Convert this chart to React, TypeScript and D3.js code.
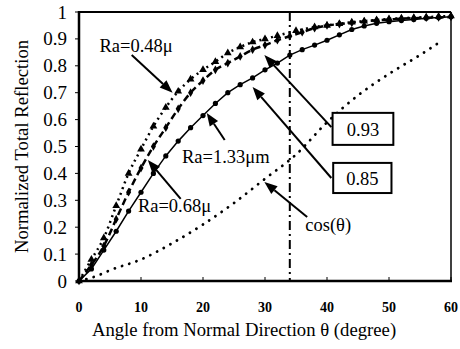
import React from 'react';
import * as d3 from 'd3';

// angle (degree) vs normalized total reflection
const triAngles = [0, 2, 4, 6, 8, 10, 12, 14, 16, 18, 20, 22, 24, 26, 28, 30, 32, 35, 38, 40, 42, 44, 46, 48, 50, 52, 54, 56, 58, 60];
const triValues = [0, 0.08, 0.16, 0.28, 0.4, 0.49, 0.575, 0.645, 0.705, 0.75, 0.785, 0.815, 0.848, 0.87, 0.888, 0.9, 0.912, 0.93, 0.944, 0.95, 0.956, 0.962, 0.966, 0.97, 0.974, 0.977, 0.979, 0.981, 0.983, 0.985];

const diaAngles = [0, 2, 4, 6, 8, 10, 12, 14, 16, 18, 20, 22, 24, 26, 28, 30, 32, 34, 36, 38, 40, 42, 44, 46, 48, 50, 52, 54, 56, 58, 60];
const diaValues = [0, 0.06, 0.13, 0.23, 0.33, 0.42, 0.5, 0.57, 0.64, 0.7, 0.745, 0.785, 0.81, 0.835, 0.86, 0.877, 0.895, 0.91, 0.925, 0.94, 0.95, 0.955, 0.96, 0.965, 0.969, 0.972, 0.975, 0.977, 0.979, 0.98, 0.982];

const cirAngles = [0, 2, 4, 6, 8, 10, 12, 14, 16, 18, 20, 22, 24, 26, 28, 30, 32, 34, 36, 38, 40, 42, 44, 46, 48, 50, 52, 54, 56, 58, 60];
const cirValues = [0, 0.045, 0.115, 0.185, 0.26, 0.33, 0.4, 0.465, 0.52, 0.57, 0.615, 0.66, 0.7, 0.73, 0.755, 0.785, 0.81, 0.84, 0.86, 0.877, 0.895, 0.915, 0.935, 0.948, 0.958, 0.964, 0.968, 0.972, 0.977, 0.98, 0.982];

const cosAngles = [0, 3, 5, 10, 15, 20, 25, 30, 35, 40, 45, 50, 55, 58];
const cosValues = [0, 0.02, 0.04, 0.08, 0.14, 0.21, 0.29, 0.38, 0.47, 0.59, 0.69, 0.77, 0.84, 0.885];

const xTicks = [0, 10, 20, 30, 40, 50, 60];
const yTicks = [0, 0.1, 0.2, 0.3, 0.4, 0.5, 0.6, 0.7, 0.8, 0.9, 1];
const cutAngle = 34;

// labels with arrows: text position, arrow start, arrow tip (data units)
const arrowLabels = [
  { text: 'Ra=0.48\u03bc', tx: 3.3, ty: 0.853, from: [8.5, 0.84], to: [15.1, 0.7] },
  { text: 'Ra=1.33\u03bcm', tx: 16.6, ty: 0.44, from: [23.5, 0.524], to: [20.6, 0.625] },
  { text: 'Ra=0.68\u03bc', tx: 9.5, ty: 0.257, from: [16.4, 0.305], to: [11.1, 0.45] },
  { text: 'cos(\u03b8)', tx: 36.5, ty: 0.186, from: [36.8, 0.238], to: [29.9, 0.368] },
];
const boxLabels = [
  { text: '0.93', x0: 40.9, x1: 50.7, y0: 0.625, y1: 0.506, from: [40.7, 0.572], to: [29.9, 0.84] },
  { text: '0.85', x0: 41, x1: 50.4, y0: 0.439, y1: 0.327, from: [40.7, 0.383], to: [28, 0.721] },
];

const W = 460;
const H = 349;
const margin = { top: 12, right: 8, bottom: 68, left: 79 };
const txt: React.CSSProperties = { fontFamily: "'Liberation Serif', serif" };

function Arrow({ x1, y1, x2, y2 }: { x1: number; y1: number; x2: number; y2: number }) {
  const a = Math.atan2(y2 - y1, x2 - x1);
  const len = 13, half = 5;
  const bx = x2 - len * Math.cos(a), by = y2 - len * Math.sin(a);
  const p1 = [bx + half * Math.sin(a), by - half * Math.cos(a)];
  const p2 = [bx - half * Math.sin(a), by + half * Math.cos(a)];
  return (
    <g>
      <line x1={x1} y1={y1} x2={bx} y2={by} stroke="#000" strokeWidth={2} />
      <polygon points={`${x2},${y2} ${p1[0]},${p1[1]} ${p2[0]},${p2[1]}`} fill="#000" />
    </g>
  );
}

export default function App() {
  const x = d3.scaleLinear().domain([0, 60]).range([margin.left, W - margin.right - 1]);
  const y = d3.scaleLinear().domain([0, 1]).range([H - margin.bottom, margin.top]);
  const line = d3.line<[number, number]>().x(d => x(d[0])).y(d => y(d[1]));
  const smooth = d3.line<[number, number]>().x(d => x(d[0])).y(d => y(d[1])).curve(d3.curveMonotoneX);

  const tri = triAngles.map((a, i) => [a, triValues[i]] as [number, number]);
  const dia = diaAngles.map((a, i) => [a, diaValues[i]] as [number, number]);
  const cir = cirAngles.map((a, i) => [a, cirValues[i]] as [number, number]);
  const cosPts = cosAngles.map((a, i) => [a, cosValues[i]] as [number, number]);

  const x0 = x(0), x1 = x(60), y0 = y(0), y1 = y(1);

  return (
    <svg width={W} height={H} style={{ position: 'fixed', left: 0, top: 0, background: '#fff' }}>
      {/* curves */}
      <path d={smooth(cosPts) || ''} fill="none" stroke="#000" strokeWidth={2.8} strokeDasharray="0.1,7.5" strokeLinecap="round" />
      <path d={smooth(tri) || ''} fill="none" stroke="#000" strokeWidth={2.5} strokeDasharray="2,4" />
      <path d={smooth(dia) || ''} fill="none" stroke="#000" strokeWidth={2.5} strokeDasharray="7,4" />
      <path d={line(cir) || ''} fill="none" stroke="#000" strokeWidth={1.5} />
      {tri.map((d, i) => (
        <path key={'t' + i} d={d3.symbol(d3.symbolTriangle, 26)() || ''} transform={`translate(${x(d[0])},${y(d[1])})`} fill="#000" />
      ))}
      {dia.map((d, i) => (
        <path key={'d' + i} d={d3.symbol(d3.symbolDiamond, 22)() || ''} transform={`translate(${x(d[0])},${y(d[1])})`} fill="#000" />
      ))}
      {cir.map((d, i) => (
        <circle key={'c' + i} cx={x(d[0])} cy={y(d[1])} r={2.6} fill="#000" />
      ))}

      {/* vertical cut line */}
      <line x1={x(cutAngle)} x2={x(cutAngle)} y1={y1} y2={y0} stroke="#000" strokeWidth={2} strokeDasharray="9,4,2,4" />

      {/* frame */}
      <line x1={x0} x2={x1} y1={y1} y2={y1} stroke="#000" strokeWidth={2} />
      <line x1={x1} x2={x1} y1={y1} y2={y0} stroke="#000" strokeWidth={1.5} />
      <line x1={x0} x2={x1 + 1} y1={y0} y2={y0} stroke="#000" strokeWidth={2.5} />
      <line x1={x0} x2={x0} y1={y1 - 1} y2={y0} stroke="#000" strokeWidth={2.5} />

      {/* y axis */}
      {yTicks.map(t => (
        <g key={'y' + t}>
          <line x1={x0 - 4} x2={x0} y1={y(t)} y2={y(t)} stroke="#000" strokeWidth={1} />
          <text x={x0 - 12} y={y(t)} textAnchor="end" dominantBaseline="central" fontSize={19} style={txt}>{t}</text>
        </g>
      ))}
      {/* x axis */}
      {xTicks.map(t => (
        <g key={'x' + t}>
          <line x1={x(t)} x2={x(t)} y1={y0} y2={y0 - 4} stroke="#000" strokeWidth={1} />
          <text x={x(t)} y={y0 + 26} textAnchor="middle" dominantBaseline="central" fontSize={14} fontWeight="bold" style={txt}>{t}</text>
        </g>
      ))}

      <text x={244} y={329} textAnchor="middle" dominantBaseline="central" fontSize={18.7} style={txt}>
        Angle from Normal Direction {'\u03b8'} (degree)
      </text>
      <text transform={`translate(21,${(y0 + y1) / 2}) rotate(-90)`} textAnchor="middle" dominantBaseline="central" fontSize={18.7} style={txt}>
        Normalized Total Reflection
      </text>

      {/* annotations */}
      {arrowLabels.map(l => (
        <g key={l.text}>
          <text x={x(l.tx)} y={y(l.ty)} fontSize={18.5} style={txt}>{l.text}</text>
          <Arrow x1={x(l.from[0])} y1={y(l.from[1])} x2={x(l.to[0])} y2={y(l.to[1])} />
        </g>
      ))}
      {boxLabels.map(b => (
        <g key={b.text}>
          <Arrow x1={x(b.from[0])} y1={y(b.from[1])} x2={x(b.to[0])} y2={y(b.to[1])} />
          <rect x={x(b.x0)} y={y(b.y0)} width={x(b.x1) - x(b.x0)} height={y(b.y1) - y(b.y0)} fill="#fff" stroke="#000" strokeWidth={2} />
          <text x={(x(b.x0) + x(b.x1)) / 2} y={(y(b.y0) + y(b.y1)) / 2 + 1} textAnchor="middle" dominantBaseline="central" fontSize={18.5} style={txt}>{b.text}</text>
        </g>
      ))}
    </svg>
  );
}
